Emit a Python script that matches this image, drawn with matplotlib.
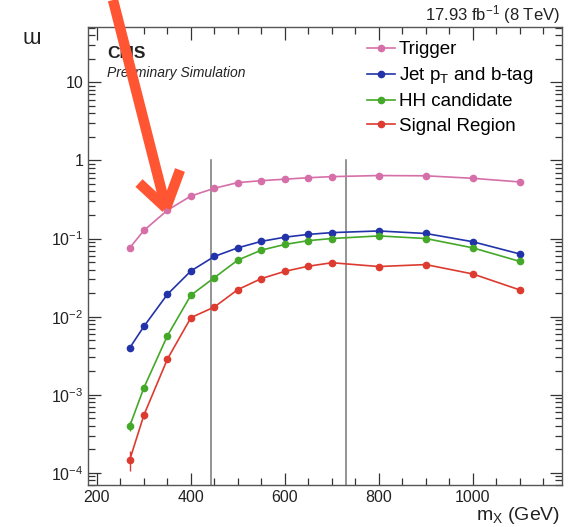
import numpy as np
import matplotlib
matplotlib.use("Agg")
import matplotlib.pyplot as plt
from matplotlib.lines import Line2D
from matplotlib.ticker import FixedLocator, LogLocator, FuncFormatter, NullFormatter

plt.rcParams['font.family'] = ['Liberation Sans', 'DejaVu Sans']
plt.rcParams['mathtext.default'] = 'regular'

mass = [270, 300, 350, 400, 450, 500, 550, 600, 650, 700, 800, 900, 1000, 1100]
trigger = [0.076, 0.127, 0.23, 0.35, 0.44, 0.52, 0.55, 0.575, 0.60, 0.62, 0.64, 0.635, 0.59, 0.53]
jet_btag = [0.0040, 0.0075, 0.0193, 0.0384, 0.059, 0.076, 0.092, 0.104, 0.113, 0.119, 0.125, 0.116, 0.091, 0.0635]
hh_cand = [4.0e-4, 1.23e-3, 5.7e-3, 0.0188, 0.0316, 0.053, 0.071, 0.084, 0.094, 0.100, 0.108, 0.100, 0.076, 0.051]
sig_region = [1.48e-4, 5.5e-4, 2.86e-3, 9.7e-3, 0.0133, 0.0222, 0.0307, 0.038, 0.0442, 0.049, 0.0438, 0.0464, 0.0352, 0.022]
hh_err = [0.6e-4, 1.0e-4, 3e-4, 5e-4, 6e-4, 8e-4, 9e-4, 1e-3, 1e-3, 1e-3, 1e-3, 1e-3, 1e-3, 1e-3]
sig_err = [0.42e-4, 0.6e-4, 2e-4, 4e-4, 5e-4, 6e-4, 7e-4, 8e-4, 8e-4, 9e-4, 8e-4, 9e-4, 8e-4, 6e-4]
cut_lines = [443, 731]

series = [
    ("Trigger", trigger, None, "#d66fa8"),
    ("Jet p$_T$ and b-tag", jet_btag, None, "#2233aa"),
    ("HH candidate", hh_cand, hh_err, "#44a828"),
    ("Signal Region", sig_region, sig_err, "#dd3b30"),
]

fig = plt.figure(figsize=(5.74, 5.27), dpi=100)
ax = fig.add_axes([88 / 574, 42 / 527, 474 / 574, 458 / 527])

ax.set_yscale("log")
ax.set_xlim(181, 1190)
ax.set_ylim(7e-5, 51)

for xc in cut_lines:
    ax.plot([xc, xc], [7e-5, 1], color="#777777", lw=1.1, zorder=1)

handles = []
for label, vals, err, col in series:
    ax.errorbar(mass, vals, yerr=err, color=col, marker="o", ms=4.5, lw=1.2,
                elinewidth=1.0, capsize=0, zorder=3)
    handles.append(Line2D([], [], color=col, marker="o", ms=4.5, lw=1.2, label=label))

ax.xaxis.set_major_locator(FixedLocator([200, 400, 600, 800, 1000]))
ax.xaxis.set_minor_locator(FixedLocator(np.arange(200, 1200, 50)))
ax.yaxis.set_major_locator(LogLocator(base=10, numticks=10))
ax.yaxis.set_minor_locator(LogLocator(base=10, subs=np.arange(2, 10), numticks=20))
ax.yaxis.set_minor_formatter(NullFormatter())


def ylab(v, pos):
    e = int(round(np.log10(v)))
    if e == 0:
        return "1"
    if e == 1:
        return "10"
    return "$10^{%d}$" % e


ax.yaxis.set_major_formatter(FuncFormatter(ylab))
ax.tick_params(which="both", direction="in", top=True, right=True, colors="#333333",
               labelcolor="#222222", labelsize=11.5, width=0.9)
ax.tick_params(which="major", length=9)
ax.tick_params(which="minor", length=5)
for s in ax.spines.values():
    s.set_color("#555555")
    s.set_linewidth(1.0)

ax.legend(handles=handles, loc="upper left", bbox_to_anchor=(367 / 574, 1 - 41 / 527),
          bbox_transform=fig.transFigure, frameon=False, fontsize=13.5, handlelength=1.5,
          handletextpad=0.2, labelspacing=0.38, borderpad=0, borderaxespad=0)

fig.text(107 / 574, 1 - 53 / 527, "CMS", fontsize=12.5, fontweight="bold", va="center", color="#222222")
fig.text(107 / 574, 1 - 73 / 527, "Preliminary Simulation", fontsize=10, style="italic",
         va="center", color="#222222")
fig.text(560 / 574, 1 - 15 / 527, "17.93 fb$^{-1}$ (8 TeV)", fontsize=12, ha="right", va="center",
         color="#222222")
fig.text(560 / 574, 1 - 515 / 527, "m$_X$ (GeV)", fontsize=14, ha="right", va="center", color="#222222")
fig.text(32 / 574, 1 - 38 / 527, "ɯ", fontsize=16, ha="center", va="center", color="#222222")

# hand-drawn arrow on top of the chart
arrow_col = "#ff5533"
pts = [((113, 0), (166, 208)), ((166, 208), (139, 183)), ((166, 208), (180, 170))]
for (x0, y0), (x1, y1) in pts:
    fig.add_artist(Line2D([x0 / 574, x1 / 574], [1 - y0 / 527, 1 - y1 / 527], color=arrow_col,
                          lw=7.5, solid_capstyle="butt", transform=fig.transFigure, zorder=10))

fig.savefig("out.png", dpi=100)
